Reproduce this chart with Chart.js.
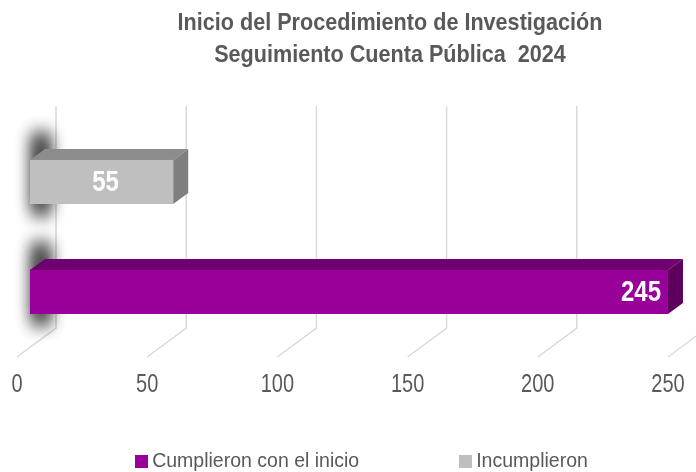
<!DOCTYPE html>
<html>
<head>
<meta charset="utf-8">
<script src="https://cdn.jsdelivr.net/npm/chart.js@4.4.1/dist/chart.umd.min.js"></script>
<style>
  body { margin: 0; background: #fff; }
  #wrap { position: relative; width: 696px; height: 472px; font-family: "Liberation Sans", Arial, sans-serif; color: #595959; }
  #chart { position: absolute; left: 0; top: 0; }
  #title { position: absolute; top: 6px; left: 84px; right: 0; text-align: center; font-weight: bold; font-size: 24px; line-height: 32px; transform: scaleX(0.9); transform-origin: 306px 0; }
  #legend { position: absolute; left: 27px; right: 0; top: 447px; display: flex; justify-content: center; gap: 100px; font-size: 19.5px; line-height: 26px; }
  #legend span.box { display: inline-block; width: 13px; height: 13px; margin-right: 4px; vertical-align: -1px; }
</style>
</head>
<body>
<div id="wrap">
  <canvas id="chart" width="696" height="472"></canvas>
  <div id="title">Inicio del Procedimiento de Investigación<br>Seguimiento Cuenta Pública&nbsp; 2024</div>
  <div id="legend"></div>
</div>
<script>
// datos
const categories = ["Cuenta Pública 2024"];
const seriesNames = ["Cumplieron con el inicio", "Incumplieron"];
const cumplieron = [245];
const incumplieron = [55];
const xTicks = [0, 50, 100, 150, 200, 250];

const FONT = "'Liberation Sans', Arial, sans-serif";
const NARROW = 0.8; // la fuente original es condensada

// perspectiva (piso / pared del fondo)
const FLOOR_DX = 39, FLOOR_DY = 29, WALL_TOP = 106;
const BAR_OFF_X = 13, BAR_OFF_Y = 10;
const BAR_DX = 15, BAR_DY = 11;

function poly(ctx, pts) {
  ctx.beginPath();
  ctx.moveTo(pts[0][0], pts[0][1]);
  for (let i = 1; i < pts.length; i++) ctx.lineTo(pts[i][0], pts[i][1]);
  ctx.closePath();
  ctx.fill();
}

function narrowText(ctx, text, x, y, align) {
  ctx.save();
  ctx.translate(x, y);
  ctx.scale(NARROW, 1);
  ctx.textAlign = align;
  ctx.fillText(text, 0, 0);
  ctx.restore();
}

const bar3d = {
  id: "bar3d",
  beforeDatasetsDraw(chart) {
    const { ctx, chartArea, scales: { x } } = chart;
    ctx.save();
    ctx.strokeStyle = "#d9d9d9";
    ctx.lineWidth = 1.5;
    x.ticks.forEach(t => {
      const px = x.getPixelForValue(t.value);
      ctx.beginPath();
      ctx.moveTo(px, chartArea.bottom);
      ctx.lineTo(px + FLOOR_DX, chartArea.bottom - FLOOR_DY);
      ctx.lineTo(px + FLOOR_DX, WALL_TOP);
      ctx.stroke();
    });

    // sombra en la base de cada barra (dos pasadas para oscurecer)
    ctx.shadowColor = "rgba(0,0,0,0.85)";
    ctx.shadowBlur = 18;
    ctx.shadowOffsetX = 1000;
    ctx.fillStyle = "#000";
    for (let k = 0; k < 2; k++) {
      chart.data.datasets.forEach((ds, i) => {
        chart.getDatasetMeta(i).data.forEach(bar => {
          const top = bar.y - bar.height / 2 - BAR_OFF_Y;
          ctx.fillRect(bar.base + BAR_OFF_X + 5 - 1000, top - 26, 12, bar.height + 36);
        });
      });
    }
    ctx.restore();

    ctx.save();
    ctx.translate(BAR_OFF_X, -BAR_OFF_Y);
  },
  afterDatasetsDraw(chart) {
    const { ctx } = chart;
    chart.data.datasets.forEach((ds, i) => {
      chart.getDatasetMeta(i).data.forEach((bar, j) => {
        const l = bar.base, r = bar.x;
        const t = bar.y - bar.height / 2, b = bar.y + bar.height / 2;
        ctx.fillStyle = ds.topColor;
        poly(ctx, [[l, t], [r, t], [r + BAR_DX, t - BAR_DY], [l + BAR_DX, t - BAR_DY]]);
        ctx.fillStyle = ds.sideColor;
        poly(ctx, [[r, t], [r + BAR_DX, t - BAR_DY], [r + BAR_DX, b - BAR_DY], [r, b]]);

        ctx.fillStyle = "#fff";
        ctx.font = "bold 30px " + FONT;
        ctx.textBaseline = "middle";
        if (ds.labelPos === "end") {
          narrowText(ctx, String(ds.data[j]), r - 7, bar.y + 1, "right");
        } else {
          narrowText(ctx, String(ds.data[j]), (l + r) / 2 + 4, bar.y + 1, "center");
        }
      });
    });
    ctx.restore();
  },
  afterDraw(chart) {
    const { ctx, chartArea, scales: { x } } = chart;
    ctx.save();
    ctx.fillStyle = "#595959";
    ctx.font = "25px " + FONT;
    ctx.textBaseline = "middle";
    x.ticks.forEach(t => {
      narrowText(ctx, String(t.value), x.getPixelForValue(t.value), chartArea.bottom + 28, "center");
    });
    ctx.restore();
  }
};

const chart = new Chart(document.getElementById("chart"), {
  type: "bar",
  data: {
    labels: categories,
    datasets: [
      {
        label: seriesNames[1],
        data: incumplieron,
        backgroundColor: "#bfbfbf",
        topColor: "#8c8c8c",
        sideColor: "#7f7f7f",
        labelPos: "center"
      },
      {
        label: seriesNames[0],
        data: cumplieron,
        backgroundColor: "#990099",
        topColor: "#700070",
        sideColor: "#5e005e",
        labelPos: "end"
      }
    ]
  },
  options: {
    indexAxis: "y",
    responsive: false,
    animation: false,
    devicePixelRatio: 1,
    categoryPercentage: 1,
    barPercentage: 0.4,
    layout: { padding: { left: 17, right: 28, top: 137, bottom: 0 } },
    plugins: {
      legend: { display: false },
      title: { display: false },
      tooltip: { enabled: false }
    },
    scales: {
      x: {
        min: 0,
        max: 250,
        afterBuildTicks: s => { s.ticks = xTicks.map(v => ({ value: v })); },
        afterFit: s => { s.height = 115; },
        grid: { display: false, drawTicks: false },
        border: { display: false },
        ticks: { display: false }
      },
      y: { display: false }
    }
  },
  plugins: [bar3d]
});

// leyenda
const legend = document.getElementById("legend");
[chart.data.datasets[1], chart.data.datasets[0]].forEach(ds => {
  const item = document.createElement("div");
  item.innerHTML = `<span class="box" style="background:${ds.backgroundColor}"></span>${ds.label}`;
  legend.appendChild(item);
});
</script>
</body>
</html>
